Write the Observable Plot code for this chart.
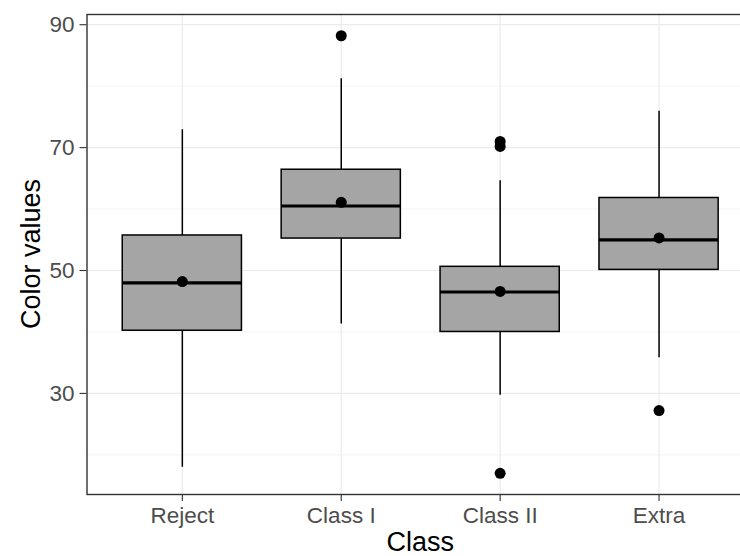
<!DOCTYPE html>
<html>
<head>
<meta charset="utf-8">
<script src="https://cdn.jsdelivr.net/npm/d3@7"></script>
<script src="https://cdn.jsdelivr.net/npm/@observablehq/plot@0.6"></script>
<style>
  html, body { margin: 0; padding: 0; background: white; overflow: hidden; }
  #chart { width: 740px; height: 556px; overflow: hidden; }
  #chart svg { overflow: hidden; }
  #chart svg g[aria-label^="x-axis"] text, #chart svg g[aria-label^="y-axis"] text { fill: #4D4D4D; }
  #chart svg g[aria-label^="x-axis"] path, #chart svg g[aria-label^="y-axis"] path,
  #chart svg g[aria-label^="x-axis"] line, #chart svg g[aria-label^="y-axis"] line { stroke: #333333; stroke-width: 1.1px; }
</style>
</head>
<body>
<div id="chart"></div>
<script>
// Categories
const classes = ["Reject", "Class I", "Class II", "Extra"];
// Box statistics
const whiskerLow  = [18.0, 41.3, 29.7, 35.8];
const q1          = [40.2, 55.2, 40.0, 50.1];
const median      = [48.0, 60.5, 46.5, 55.0];
const q3          = [55.7, 66.4, 50.6, 61.8];
const whiskerHigh = [72.9, 81.2, 64.6, 75.9];
const means       = [48.2, 61.1, 46.6, 55.3];
// Outliers
const outlierClass = ["Class I", "Class II", "Class II", "Class II", "Extra"];
const outlierValue = [88.2, 71.0, 70.2, 17.0, 27.2];
// Axis ticks
const yTicks = [30, 50, 70, 90];
const yMinor = [20, 40, 60, 80];
const yDomain = [13.55, 91.66];

const stats = classes.map((c, i) => ({
  cls: c, lo: whiskerLow[i], q1: q1[i], median: median[i], q3: q3[i], hi: whiskerHigh[i], mean: means[i]
}));
const outliers = outlierClass.map((c, i) => ({cls: c, value: outlierValue[i]}));

const W = 740, H = 556;
// the panel of the original runs past the right edge of the picture
const mL = 86.5, mR = -13.9, mT = 14, mB = 62;

const chart = Plot.plot({
  width: W, height: H,
  marginLeft: mL, marginRight: mR, marginTop: mT, marginBottom: mB,
  style: {fontFamily: "'Liberation Sans', Arial, Helvetica, sans-serif", fontSize: "22.5px", background: "white", color: "#333333", overflow: "hidden"},
  x: {domain: classes, paddingInner: 0.25, paddingOuter: 0.225, round: false, tickSize: 7, tickPadding: 5.6, label: null},
  y: {domain: yDomain, ticks: yTicks, tickSize: 7, tickPadding: 5.5, label: null},
  marks: [
    Plot.ruleY(yMinor, {stroke: "#EBEBEB", strokeWidth: 0.6}),
    Plot.ruleY(yTicks, {stroke: "#EBEBEB", strokeWidth: 1.2}),
    Plot.ruleX(classes, {stroke: "#EBEBEB", strokeWidth: 1.2}),
    Plot.ruleX(stats, {x: "cls", y1: "lo", y2: "hi", stroke: "black", strokeWidth: 1.5}),
    Plot.barY(stats, {x: "cls", y1: "q1", y2: "q3", fill: "#A5A5A5", stroke: "black", strokeWidth: 1.5}),
    Plot.tickY(stats, {x: "cls", y: "median", stroke: "black", strokeWidth: 3.2}),
    Plot.dot(outliers, {x: "cls", y: "value", r: 5.5, fill: "black", stroke: "none"}),
    Plot.dot(stats, {x: "cls", y: "mean", r: 5.5, fill: "black", stroke: "none"}),
    Plot.frame({stroke: "#333333", strokeWidth: 1.4})
  ]
});

const svg = d3.select(chart);
svg.append("text")
  .attr("x", mL + (W - mL - mR) / 2).attr("y", 551)
  .attr("text-anchor", "middle")
  .attr("font-size", 27).attr("fill", "black")
  .text("Class");
svg.append("text")
  .attr("transform", `translate(40,${mT + (H - mT - mB) / 2}) rotate(-90)`)
  .attr("text-anchor", "middle")
  .attr("font-size", 27).attr("fill", "black")
  .text("Color values");

document.getElementById("chart").appendChild(chart);
</script>
</body>
</html>
